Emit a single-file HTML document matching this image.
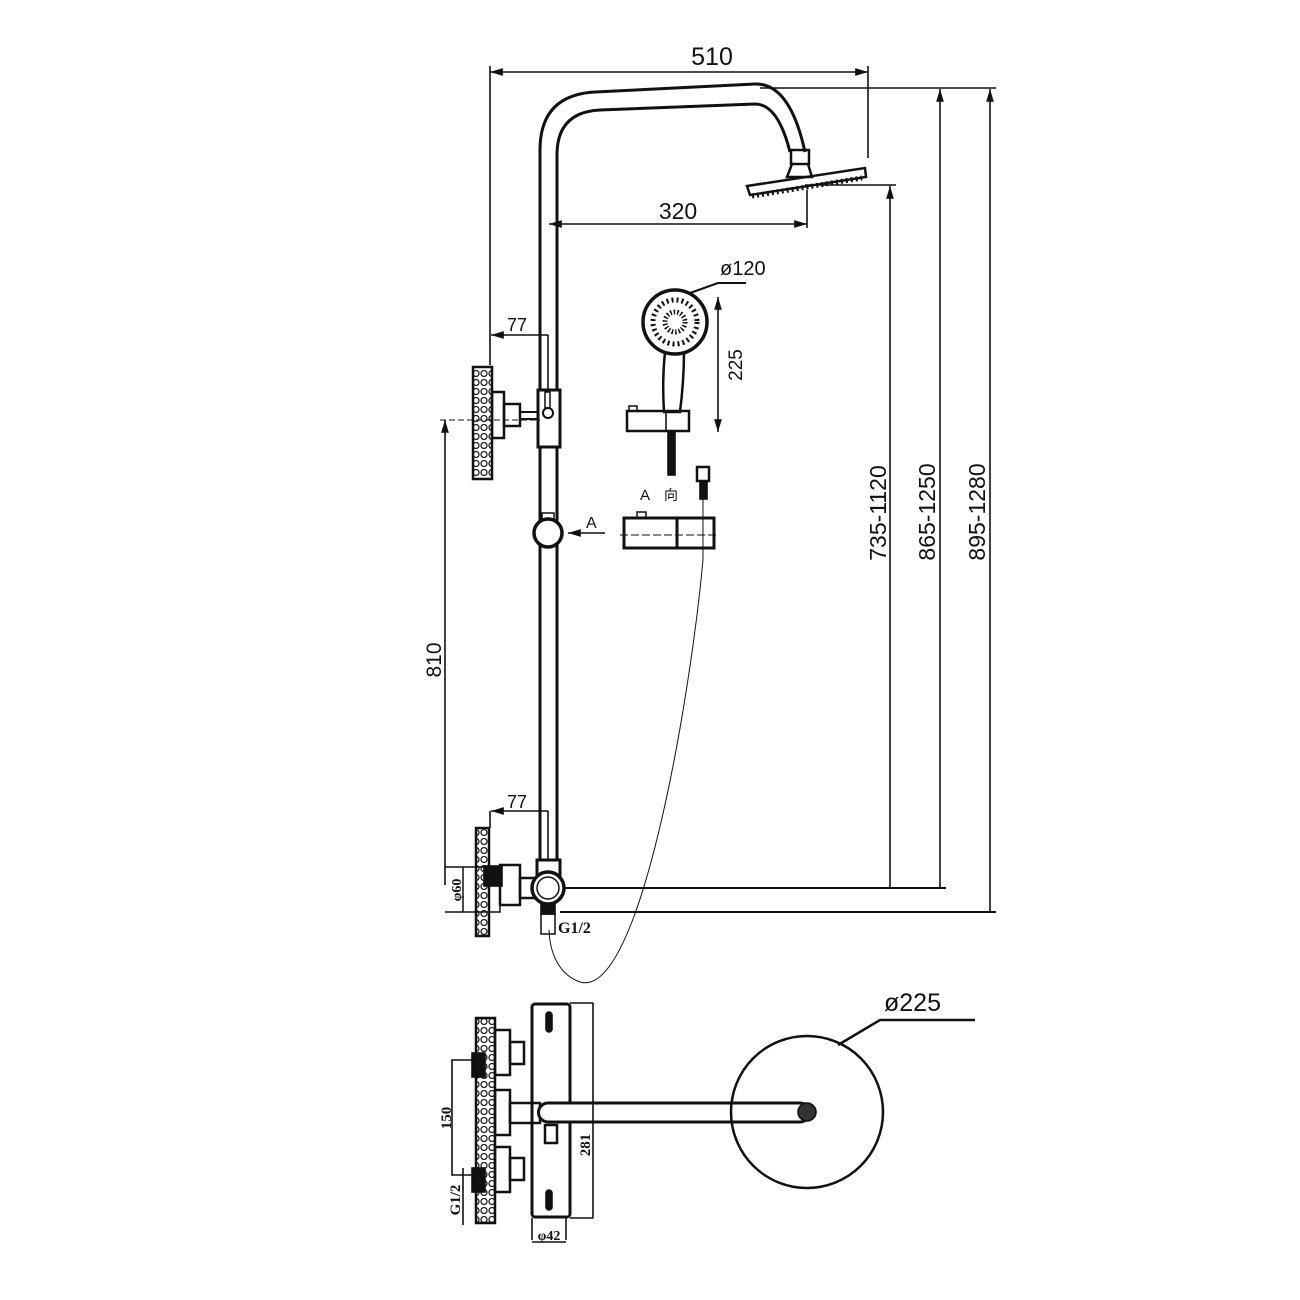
<!DOCTYPE html>
<html><head><meta charset="utf-8"><style>
html,body{margin:0;padding:0;background:#fff;width:1300px;height:1300px;overflow:hidden}
svg{display:block}
text{font-family:"Liberation Sans","Noto Sans CJK SC",sans-serif;fill:#111}
.s{font-family:"Liberation Serif",serif}
</style></head><body>
<svg width="1300" height="1300" viewBox="0 0 1300 1300" xmlns="http://www.w3.org/2000/svg">
<defs>
<marker id="a" viewBox="0 0 10 10" refX="10" refY="5" markerWidth="8" markerHeight="8" orient="auto-start-reverse"><path d="M0,2 L10,5 L0,8z" fill="#111"/></marker>
<pattern id="peb" width="8" height="9" patternUnits="userSpaceOnUse"><circle cx="4" cy="4.5" r="3" fill="none" stroke="#222" stroke-width="1.3"/></pattern>
</defs>
<g stroke="#111" fill="none" stroke-width="1.6">
<line x1="490" y1="72" x2="868" y2="72" marker-start="url(#a)" marker-end="url(#a)"/>
<line x1="490" y1="66" x2="490" y2="365"/>
<line x1="868" y1="66" x2="868" y2="158"/>
<path d="M540,860 L540,150 Q540,95 595,92 L755,84 Q790,83 805,152" stroke-width="3"/>
<path d="M557,860 L557,155 Q557,112 600,110 L755,104 Q778,104 790,152" stroke-width="3"/>
<rect x="791" y="150" width="18" height="14" stroke-width="2.5"/>
<path d="M792,164 L787,177 L812,177 L808,164" stroke-width="2.5"/>
<path d="M747,186 L865,168 L866,177 L750,195 Z" stroke-width="2.5"/>
<path d="M752,196 L862,178" stroke-width="5" stroke-dasharray="2 3"/>
<line x1="549" y1="224" x2="807" y2="224" marker-start="url(#a)" marker-end="url(#a)"/>
<line x1="807" y1="190" x2="807" y2="228"/>
<line x1="805" y1="185" x2="896" y2="185"/>
<line x1="760" y1="88" x2="996" y2="88"/>
<line x1="560" y1="888" x2="946" y2="888" stroke-width="2"/>
<line x1="560" y1="912" x2="996" y2="912" stroke-width="2"/>
<line x1="890" y1="186" x2="890" y2="888" marker-start="url(#a)"/>
<line x1="940" y1="89" x2="940" y2="888" marker-start="url(#a)"/>
<line x1="990" y1="89" x2="990" y2="912" marker-start="url(#a)"/>
<line x1="491" y1="335" x2="548" y2="335" marker-start="url(#a)"/>
<line x1="548" y1="335" x2="548" y2="395"/>
<rect x="473" y="367" width="19" height="112" fill="url(#peb)" stroke-width="2.5"/>
<rect x="492" y="392" width="12" height="46" stroke-width="2.5"/>
<rect x="504" y="404" width="16" height="22" stroke-width="2.5"/>
<line x1="520" y1="412" x2="540" y2="412" stroke-width="2"/>
<line x1="520" y1="419" x2="540" y2="419" stroke-width="2"/>
<rect x="538" y="390" width="22" height="57" fill="#fff" stroke-width="3"/>
<circle cx="548" cy="413" r="5" stroke-width="2"/>
<rect x="545" y="392" width="5" height="16" stroke-width="1.5"/>
<line x1="445" y1="420" x2="445" y2="885" marker-start="url(#a)"/>
<line x1="440" y1="420" x2="540" y2="420" stroke-dasharray="6 3" stroke-width="1"/>
<circle cx="548" cy="533" r="14" fill="#fff" stroke-width="3.5"/>
<rect x="542" y="513" width="12" height="6" stroke-width="1.5"/>
<line x1="605" y1="533" x2="568" y2="533" marker-end="url(#a)"/>
<circle cx="675" cy="322" r="32" stroke-width="3.5"/>
<circle cx="675" cy="322" r="22" stroke-width="5" stroke-dasharray="2 3"/>
<circle cx="675" cy="322" r="10" stroke-width="5" stroke-dasharray="1.5 2"/>
<path d="M665,352 Q662,380 664,412 L680,412 Q684,380 684,352" stroke-width="2.5"/>
<rect x="627" y="411" width="62" height="20" stroke-width="2.5"/>
<line x1="666" y1="411" x2="666" y2="431"/>
<rect x="629" y="406" width="8" height="5" stroke-width="1.5"/>
<rect x="668" y="431" width="7" height="44" fill="#111"/>
<line x1="718" y1="297" x2="718" y2="432" marker-start="url(#a)" marker-end="url(#a)"/>
<path d="M690,293 L718,283 L746,283" stroke-width="2"/>
<rect x="697" y="467" width="12" height="14" stroke-width="2.5"/>
<rect x="700" y="481" width="7" height="18" fill="#111"/>
<rect x="624" y="518" width="90" height="30" stroke-width="3"/>
<line x1="677" y1="518" x2="677" y2="548" stroke-width="3"/>
<line x1="620" y1="535" x2="718" y2="535" stroke-dasharray="8 3" stroke-width="1"/>
<rect x="637" y="512" width="9" height="6" stroke-width="1.5"/>
<path d="M703,499 L703,560 C690,700 640,1000 580,982 C560,975 550,955 549,930" stroke-width="1"/>
<line x1="491" y1="811" x2="548" y2="811" marker-start="url(#a)"/>
<line x1="490" y1="811" x2="490" y2="828"/>
<line x1="548" y1="811" x2="548" y2="860"/>
<rect x="476" y="828" width="13" height="108" fill="url(#peb)" stroke-width="2.5"/>
<rect x="484" y="866" width="18" height="20" fill="#111"/>
<rect x="463" y="867" width="37" height="45" stroke-width="1.5"/>
<rect x="500" y="865" width="20" height="40" stroke-width="2.5"/>
<rect x="520" y="878" width="14" height="20" stroke-width="2.5"/>
<rect x="537" y="860" width="23" height="15" fill="#fff" stroke-width="3"/>
<circle cx="548" cy="888" r="16" fill="#fff" stroke-width="3.5"/>
<circle cx="548" cy="888" r="11" stroke-width="1.5"/>
<rect x="541" y="904" width="14" height="10" fill="#111"/>
<rect x="541" y="914" width="14" height="20" stroke-width="1.5"/>
<line x1="445" y1="867" x2="463" y2="867"/>
<line x1="445" y1="912" x2="463" y2="912"/>
<rect x="476" y="1018" width="19" height="205" fill="url(#peb)" stroke-width="2.5"/>
<rect x="495" y="1030" width="15" height="45" stroke-width="2.5"/>
<rect x="510" y="1042" width="14" height="22" stroke-width="2.5"/>
<rect x="495" y="1090" width="15" height="45" stroke-width="2.5"/>
<rect x="510" y="1103" width="30" height="20" stroke-width="2.5"/>
<rect x="495" y="1147" width="15" height="45" stroke-width="2.5"/>
<rect x="510" y="1158" width="14" height="22" stroke-width="2.5"/>
<rect x="472" y="1053" width="13" height="24" fill="#111"/>
<rect x="472" y="1168" width="13" height="24" fill="#111"/>
<rect x="532" y="1004" width="38" height="213" rx="3" stroke-width="3"/>
<rect x="546" y="1012" width="6" height="20" rx="3" fill="#111"/>
<rect x="546" y="1190" width="6" height="20" rx="3" fill="#111"/>
<rect x="545" y="1125" width="12" height="18" stroke-width="2.5"/>
<path d="M548,1103 L800,1103 A9.5,9.5 0 0 1 800,1122 L548,1122 A9.5,9.5 0 0 1 548,1103 Z" fill="#fff" stroke-width="3"/>
<circle cx="807" cy="1112" r="9" fill="#333"/>
<circle cx="807" cy="1112" r="76" stroke-width="2.5"/>
<path d="M838,1045 L880,1020 L975,1020" stroke-width="2.5"/>
<line x1="570" y1="1003" x2="593" y2="1003"/>
<line x1="570" y1="1218" x2="593" y2="1218"/>
<line x1="593" y1="1003" x2="593" y2="1218"/>
<line x1="532" y1="1218" x2="532" y2="1240"/>
<line x1="566" y1="1218" x2="566" y2="1240"/>
<line x1="532" y1="1242" x2="566" y2="1242"/>
<path d="M472,1060 L452,1060 L452,1175 L472,1175"/>
<line x1="463" y1="1168" x2="463" y2="1225"/>
</g>
<text x="712" y="65" font-size="25" text-anchor="middle">510</text>
<text x="678" y="219" font-size="23" text-anchor="middle">320</text>
<text x="720" y="275" font-size="20">ø120</text>
<text x="507" y="331" font-size="18">77</text>
<text x="507" y="808" font-size="18">77</text>
<text transform="translate(742,365) rotate(-90)" font-size="19" text-anchor="middle">225</text>
<text transform="translate(441,660) rotate(-90)" font-size="21" text-anchor="middle">810</text>
<text transform="translate(886,513) rotate(-90)" font-size="23" text-anchor="middle">735-1120</text>
<text transform="translate(935,512) rotate(-90)" font-size="23" text-anchor="middle">865-1250</text>
<text transform="translate(985,512) rotate(-90)" font-size="23" text-anchor="middle">895-1280</text>
<text x="586" y="528" font-size="16">A</text>
<text x="640" y="500" font-size="15">A</text>
<text x="664" y="500" font-size="14">向</text>
<text class="s" transform="translate(461,890) rotate(-90)" font-size="14" text-anchor="middle" font-weight="bold">φ60</text>
<text class="s" x="558" y="933" font-size="16" font-weight="bold">G1/2</text>
<text x="884" y="1011" font-size="25">ø225</text>
<text class="s" transform="translate(451,1118) rotate(-90)" font-size="15" text-anchor="middle" font-weight="bold">150</text>
<text class="s" transform="translate(460,1200) rotate(-90)" font-size="15" text-anchor="middle" font-weight="bold">G1/2</text>
<text class="s" transform="translate(590,1145) rotate(-90)" font-size="15" text-anchor="middle" font-weight="bold">281</text>
<text class="s" x="549" y="1240" font-size="14" text-anchor="middle" font-weight="bold">φ42</text>
</svg>
</body></html>
